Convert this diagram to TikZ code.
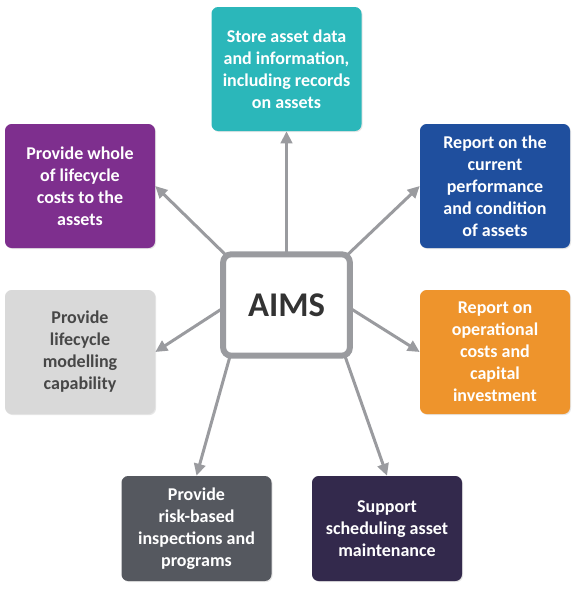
\documentclass[tikz,border=0pt]{standalone}
\usepackage{fontspec}
\setmainfont{Carlito}
\usetikzlibrary{arrows.meta,backgrounds,shadows}
\definecolor{cteal}{HTML}{2BB7BA}
\definecolor{cblue}{HTML}{1F4F9E}
\definecolor{corange}{HTML}{EE942C}
\definecolor{cdpurple}{HTML}{33294C}
\definecolor{cgrey}{HTML}{55585F}
\definecolor{clgrey}{HTML}{D9D9D9}
\definecolor{cpurple}{HTML}{7E2F8E}
\definecolor{carrow}{HTML}{9A9B9F}
\definecolor{ctext}{HTML}{333333}
\tikzset{
  box/.style={rectangle, rounded corners=5pt, minimum width=112.5pt, minimum height=93pt,
    inner sep=0pt, align=center, text=white,
    drop shadow={opacity=0.2, shadow xshift=0.8pt, shadow yshift=-0.8pt},
    font=\fontsize{13.5}{16.5}\selectfont\bfseries},
  lowbox/.style={box, minimum height=78.75pt},
  conn/.style={draw=carrow, line width=2.25pt, -{Triangle[length=9pt,width=8.5pt]}},
}
\begin{document}
\begin{tikzpicture}[x=0.75pt,y=-0.75pt]
\useasboundingbox (0,0) rectangle (584,590);
\node[box, fill=cteal] (store) at (286.5,69) {Store asset data\\and information,\\including records\\on assets};
\node[box, fill=cblue] (perf) at (495,186) {Report on the\\current\\performance\\and condition\\of assets};
\node[box, fill=corange] (cost) at (495,352) {Report on\\operational\\costs and\\capital\\investment};
\node[lowbox, fill=cdpurple] (sched) at (387,528.5) {Support\\scheduling asset\\maintenance};
\node[lowbox, fill=cgrey] (risk) at (196.5,528.5) {Provide\\risk-based\\inspections and\\programs};
\node[box, fill=clgrey, text=ctext!90!white] (model) at (80,352) {Provide\\lifecycle\\modelling\\capability};
\node[box, fill=cpurple] (whole) at (80,186) {Provide whole\\of lifecycle\\costs to the\\assets};
\node[rectangle, rounded corners=6pt, draw=carrow, line width=4.5pt, fill=white,
  minimum width=95pt, minimum height=76pt, inner sep=0pt, outer sep=0pt,
  text=ctext, font=\fontsize{26}{30}\selectfont\bfseries] (aims) at (286.5,305) {AIMS};
\begin{scope}[on background layer]
\draw[conn] (aims.north) -- (store.south);
\draw[conn] ([shift={(-5,3)}]aims.north east) -- (perf.west);
\draw[conn] ([shift={(5,3)}]aims.north west) -- (whole.east);
\draw[conn] ([shift={(0,3)}]aims.west) -- (model.east);
\draw[conn] ([shift={(0,3)}]aims.east) -- (cost.west);
\draw[conn] ([shift={(7,0)}]aims.south west) -- (risk.north);
\draw[conn] ([shift={(-5,0)}]aims.south east) -- (sched.north);
\end{scope}
\end{tikzpicture}
\end{document}
